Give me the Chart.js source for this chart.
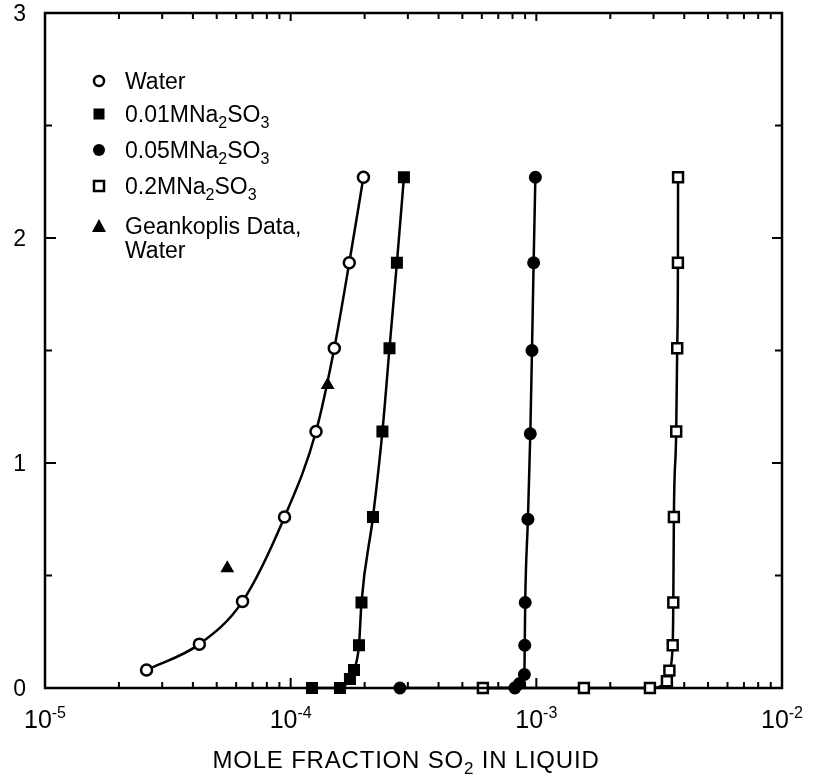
<!DOCTYPE html>
<html>
<head>
<meta charset="utf-8">
<script src="https://cdn.jsdelivr.net/npm/chart.js@4.4.1/dist/chart.umd.min.js"></script>
<style>
  html, body { margin: 0; padding: 0; background: #fff; }
  #wrap { width: 816px; height: 784px; }
</style>
</head>
<body>
<div id="wrap"><canvas id="vleChart" width="816" height="784"></canvas></div>
<script>
// mole fraction SO2 in liquid (x) vs partial pressure (y)
const waterX = [2.59e-5, 4.25e-5, 6.37e-5, 9.44e-5, 1.268e-4, 1.505e-4, 1.732e-4, 1.978e-4];
const waterY = [0.08, 0.195, 0.385, 0.76, 1.14, 1.51, 1.89, 2.27];

const na001X = [1.221e-4, 1.587e-4, 1.743e-4, 1.81e-4, 1.897e-4, 1.942e-4, 2.163e-4, 2.363e-4, 2.525e-4, 2.707e-4, 2.891e-4];
const na001Y = [0, 0, 0.04, 0.08, 0.19, 0.38, 0.76, 1.14, 1.51, 1.89, 2.27];

const na005X = [2.785e-4, 8.18e-4, 8.54e-4, 8.94e-4, 8.97e-4, 9.01e-4, 9.24e-4, 9.45e-4, 9.6e-4, 9.75e-4, 9.91e-4];
const na005Y = [0, 0, 0.02, 0.06, 0.19, 0.38, 0.75, 1.13, 1.5, 1.89, 2.27];

const na02X = [6.06e-4, 1.562e-3, 2.9e-3, 3.4e-3, 3.48e-3, 3.59e-3, 3.61e-3, 3.63e-3, 3.71e-3, 3.745e-3, 3.77e-3, 3.775e-3];
const na02Y = [0, 0, 0, 0.03, 0.077, 0.19, 0.38, 0.76, 1.14, 1.51, 1.89, 2.27];

const geankoplisX = [5.52e-5, 1.414e-4];
const geankoplisY = [0.532, 1.347];

const xTickValues = [1e-5, 1e-4, 1e-3, 1e-2];
const xTickExponents = ['-5', '-4', '-3', '-2'];
const xMinorSteps = [2, 3, 4, 5, 6, 7, 8, 9];
const yTickValues = [0, 1, 2, 3];
const yTickLabels = ['0', '1', '2', '3'];
const yMinorValues = [0.5, 1.5, 2.5];

// text parts: [text, isSubscript]
const xAxisTitle = [['MOLE FRACTION SO', false], ['2', true], [' IN LIQUID', false]];
const legendRows = [
    { marker: 'openCircle', parts: [['Water', false]] },
    { marker: 'filledSquare', parts: [['0.01MNa', false], ['2', true], ['SO', false], ['3', true]] },
    { marker: 'filledCircle', parts: [['0.05MNa', false], ['2', true], ['SO', false], ['3', true]] },
    { marker: 'openSquare', parts: [['0.2MNa', false], ['2', true], ['SO', false], ['3', true]] },
    { marker: 'triangle', parts: [['Geankoplis Data,', false]] },
    { marker: null, parts: [['Water', false]] }
];

const toPoints = (xs, ys) => xs.map((v, i) => ({ x: v, y: ys[i] }));

const FONT = '"Liberation Sans", Arial, Helvetica, sans-serif';

function drawParts(ctx, parts, x, y, size, subSize, subDrop, align, spacing) {
    ctx.letterSpacing = (spacing || 0) + 'px';
    let total = 0;
    parts.forEach(p => {
        ctx.font = (p[1] ? subSize : size) + 'px ' + FONT;
        total += ctx.measureText(p[0]).width;
    });
    let cx = align === 'center' ? x - total / 2 : x;
    ctx.textAlign = 'left';
    ctx.textBaseline = 'alphabetic';
    parts.forEach(p => {
        ctx.font = (p[1] ? subSize : size) + 'px ' + FONT;
        ctx.fillText(p[0], cx, p[1] ? y + subDrop : y);
        cx += ctx.measureText(p[0]).width;
    });
    ctx.letterSpacing = '0px';
}

function drawMarker(ctx, type, x, y) {
    ctx.save();
    ctx.lineWidth = 2.5;
    ctx.strokeStyle = '#000';
    ctx.fillStyle = '#000';
    ctx.beginPath();
    if (type === 'openCircle') {
        ctx.arc(x, y, 5, 0, Math.PI * 2);
        ctx.fillStyle = '#fff';
        ctx.fill();
        ctx.stroke();
    } else if (type === 'filledCircle') {
        ctx.arc(x, y, 6, 0, Math.PI * 2);
        ctx.fill();
    } else if (type === 'filledSquare') {
        ctx.rect(x - 5.5, y - 5.5, 11, 11);
        ctx.fill();
    } else if (type === 'openSquare') {
        ctx.rect(x - 5, y - 5, 10, 10);
        ctx.fillStyle = '#fff';
        ctx.fill();
        ctx.stroke();
    } else if (type === 'triangle') {
        ctx.moveTo(x, y - 7);
        ctx.lineTo(x + 7, y + 6);
        ctx.lineTo(x - 7, y + 6);
        ctx.closePath();
        ctx.fill();
    }
    ctx.restore();
}

const framePlugin = {
    id: 'frame',
    beforeDatasetsDraw(chart) {
        const { ctx, chartArea: a, scales: { x, y } } = chart;
        ctx.save();
        ctx.strokeStyle = '#000';
        ctx.lineWidth = 2.5;
        ctx.strokeRect(a.left, a.top, a.right - a.left, a.bottom - a.top);

        ctx.lineWidth = 2;
        ctx.beginPath();
        // x ticks, bottom and top
        xTickValues.forEach((v, i) => {
            const px = x.getPixelForValue(v);
            ctx.moveTo(px, a.bottom); ctx.lineTo(px, a.bottom - 10);
            ctx.moveTo(px, a.top); ctx.lineTo(px, a.top + 8);
            if (i < xTickValues.length - 1) {
                xMinorSteps.forEach(m => {
                    const mp = x.getPixelForValue(v * m);
                    ctx.moveTo(mp, a.bottom); ctx.lineTo(mp, a.bottom - 6);
                    ctx.moveTo(mp, a.top); ctx.lineTo(mp, a.top + 6);
                });
            }
        });
        // y ticks, left and right
        yTickValues.forEach(v => {
            const py = y.getPixelForValue(v);
            ctx.moveTo(a.left, py); ctx.lineTo(a.left + 11, py);
            ctx.moveTo(a.right, py); ctx.lineTo(a.right - 10, py);
        });
        yMinorValues.forEach(v => {
            const py = y.getPixelForValue(v);
            ctx.moveTo(a.left, py); ctx.lineTo(a.left + 7, py);
            ctx.moveTo(a.right, py); ctx.lineTo(a.right - 7, py);
        });
        ctx.stroke();

        // tick labels
        ctx.fillStyle = '#000';
        xTickValues.forEach((v, i) => {
            const px = x.getPixelForValue(v);
            ctx.font = '25px ' + FONT;
            const w1 = ctx.measureText('10').width;
            ctx.font = '16px ' + FONT;
            const w2 = ctx.measureText(xTickExponents[i]).width;
            const left = px - (w1 + w2) / 2;
            ctx.textAlign = 'left';
            ctx.textBaseline = 'alphabetic';
            ctx.font = '25px ' + FONT;
            ctx.fillText('10', left, 728);
            ctx.font = '16px ' + FONT;
            ctx.fillText(xTickExponents[i], left + w1, 718);
        });
        ctx.font = '23px ' + FONT;
        ctx.textAlign = 'right';
        ctx.textBaseline = 'middle';
        yTickValues.forEach((v, i) => {
            ctx.fillText(yTickLabels[i], 26, y.getPixelForValue(v) + 2);
        });

        // axis title
        drawParts(ctx, xAxisTitle, 406, 768, 24, 17, 6, 'center', 0.8);

        // legend
        const rowY = [89, 122, 158, 194, 234, 258];
        legendRows.forEach((row, i) => {
            if (row.marker) drawMarker(ctx, row.marker, 99, rowY[i] - 8);
            drawParts(ctx, row.parts, 125, rowY[i], 23, 16, 6, 'left', 0);
        });
        ctx.restore();
    }
};

const curveStyle = {
    showLine: true,
    borderColor: '#000',
    borderWidth: 2.5,
    cubicInterpolationMode: 'monotone',
    pointBorderColor: '#000',
    pointBorderWidth: 2.5,
    clip: false
};

new Chart(document.getElementById('vleChart').getContext('2d'), {
    type: 'scatter',
    data: {
        datasets: [
            Object.assign({}, curveStyle, {
                label: 'Water',
                data: toPoints(waterX, waterY),
                pointStyle: 'circle',
                pointRadius: 5.5,
                pointBackgroundColor: '#fff'
            }),
            Object.assign({}, curveStyle, {
                label: '0.01M Na2SO3',
                data: toPoints(na001X, na001Y),
                pointStyle: 'rect',
                pointRadius: 8.5,
                pointBorderWidth: 0,
                pointBackgroundColor: '#000'
            }),
            Object.assign({}, curveStyle, {
                label: '0.05M Na2SO3',
                data: toPoints(na005X, na005Y),
                pointStyle: 'circle',
                pointRadius: 6.5,
                pointBorderWidth: 0,
                pointBackgroundColor: '#000'
            }),
            Object.assign({}, curveStyle, {
                label: '0.2M Na2SO3',
                data: toPoints(na02X, na02Y),
                pointStyle: 'rect',
                pointRadius: 7,
                pointBackgroundColor: '#fff'
            }),
            {
                label: 'Geankoplis Data, Water',
                data: toPoints(geankoplisX, geankoplisY),
                showLine: false,
                pointStyle: 'triangle',
                pointRadius: 8,
                pointBorderWidth: 0,
                pointBackgroundColor: '#000',
                clip: false
            }
        ]
    },
    options: {
        responsive: false,
        animation: false,
        layout: { padding: { left: 45, right: 34, top: 13, bottom: 96 } },
        scales: {
            x: { type: 'logarithmic', min: 1e-5, max: 1e-2, display: false },
            y: { type: 'linear', min: 0, max: 3, display: false }
        },
        plugins: {
            legend: { display: false },
            tooltip: { enabled: false }
        }
    },
    plugins: [framePlugin]
});
</script>
</body>
</html>
